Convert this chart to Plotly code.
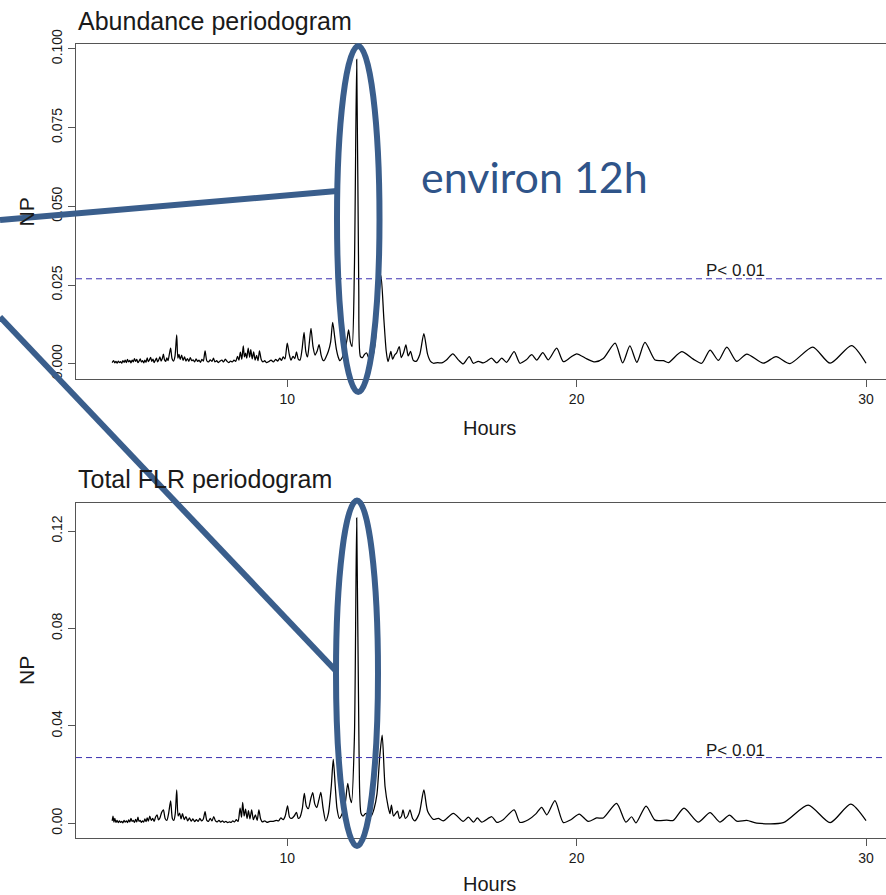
import plotly.graph_objects as go

# ---------------- data ----------------
abund_hours = [
    3.95, 4.00, 4.04, 4.08, 4.12, 4.16, 4.20, 4.24, 4.28, 4.32, 4.36, 4.40, 4.44, 4.48, 4.52, 4.56,
    4.60, 4.64, 4.68, 4.72, 4.76, 4.80, 4.84, 4.88, 4.92, 4.96, 5.00, 5.04, 5.08, 5.12, 5.16, 5.20,
    5.24, 5.28, 5.32, 5.36, 5.40, 5.44, 5.48, 5.52, 5.56, 5.60, 5.64, 5.68, 5.72, 5.76, 5.80, 5.84,
    5.88, 5.92, 5.97, 6.02, 6.07, 6.12, 6.18, 6.22, 6.26, 6.30, 6.35, 6.40, 6.45, 6.50, 6.55, 6.60,
    6.65, 6.70, 6.75, 6.80, 6.85, 6.90, 6.95, 7.00, 7.05, 7.10, 7.16, 7.22, 7.28, 7.34, 7.40, 7.45,
    7.50, 7.56, 7.62, 7.68, 7.74, 7.80, 7.86, 7.92, 7.98, 8.04, 8.10, 8.16, 8.22, 8.28, 8.33, 8.38,
    8.43, 8.48, 8.52, 8.56, 8.60, 8.65, 8.70, 8.74, 8.79, 8.84, 8.89, 8.94, 8.99, 9.04, 9.10, 9.16,
    9.22, 9.28, 9.36, 9.44, 9.52, 9.60, 9.67, 9.74, 9.80, 9.86, 9.92, 10.00, 10.07, 10.13, 10.20, 10.26,
    10.32, 10.38, 10.44, 10.51, 10.58, 10.64, 10.70, 10.76, 10.82, 10.89, 10.96, 11.03, 11.10, 11.17, 11.23, 11.27,
    11.34, 11.42, 11.50, 11.57, 11.64, 11.70, 11.76, 11.82, 11.90, 11.99, 12.07, 12.12, 12.18, 12.24, 12.32, 12.40,
    12.47, 12.53, 12.60, 12.67, 12.74, 12.81, 12.88, 12.95, 13.03, 13.12, 13.24, 13.34, 13.42, 13.48, 13.53, 13.58,
    13.64, 13.71, 13.78, 13.87, 13.94, 14.02, 14.10, 14.18, 14.26, 14.35, 14.45, 14.58, 14.72, 14.85, 14.95, 15.05,
    15.20, 15.34, 15.50, 15.72, 15.92, 16.08, 16.29, 16.43, 16.60, 16.77, 16.92, 17.06, 17.24, 17.41, 17.58, 17.84,
    18.04, 18.25, 18.45, 18.62, 18.83, 19.02, 19.31, 19.54, 19.78, 20.00, 20.35, 20.63, 20.92, 21.33, 21.59, 21.84,
    22.08, 22.36, 22.71, 23.00, 23.17, 23.63, 24.03, 24.32, 24.61, 24.90, 25.19, 25.53, 25.88, 26.45, 26.89, 27.37,
    28.16, 28.76, 29.50, 30.00,
]
abund_np = [
    0.0004, 0.0010, 0.0003, 0.0008, 0.0002, 0.0009, 0.0004, 0.0007, 0.0002, 0.0010, 0.0005, 0.0012, 0.0004, 0.0014, 0.0006, 0.0011,
    0.0003, 0.0012, 0.0006, 0.0017, 0.0008, 0.0014, 0.0004, 0.0009, 0.0016, 0.0006, 0.0010, 0.0003, 0.0012, 0.0005, 0.0019, 0.0007,
    0.0013, 0.0021, 0.0008, 0.0015, 0.0004, 0.0011, 0.0018, 0.0006, 0.0013, 0.0022, 0.0009, 0.0016, 0.0031, 0.0012, 0.0008, 0.0019,
    0.0010, 0.0028, 0.0050, 0.0016, 0.0009, 0.0024, 0.0092, 0.0018, 0.0030, 0.0014, 0.0028, 0.0011, 0.0022, 0.0009, 0.0017, 0.0008,
    0.0020, 0.0010, 0.0013, 0.0006, 0.0016, 0.0008, 0.0012, 0.0005, 0.0014, 0.0009, 0.0041, 0.0010, 0.0006, 0.0013, 0.0008, 0.0018,
    0.0006, 0.0010, 0.0004, 0.0009, 0.0012, 0.0006, 0.0015, 0.0008, 0.0004, 0.0009, 0.0006, 0.0012, 0.0008, 0.0024, 0.0012, 0.0037,
    0.0015, 0.0057, 0.0022, 0.0034, 0.0018, 0.0050, 0.0021, 0.0045, 0.0016, 0.0038, 0.0012, 0.0027, 0.0010, 0.0041, 0.0014, 0.0006,
    0.0010, 0.0004, 0.0007, 0.0012, 0.0006, 0.0014, 0.0009, 0.0018, 0.0011, 0.0022, 0.0016, 0.0066, 0.0030, 0.0012, 0.0024, 0.0017,
    0.0038, 0.0015, 0.0012, 0.0045, 0.0100, 0.0040, 0.0022, 0.0065, 0.0113, 0.0055, 0.0028, 0.0040, 0.0061, 0.0028, 0.0012, 0.0010,
    0.0022, 0.0040, 0.0070, 0.0132, 0.0085, 0.0045, 0.0022, 0.0010, 0.0020, 0.0042, 0.0080, 0.0108, 0.0070, 0.0055, 0.0300, 0.0966,
    0.0250, 0.0023, 0.0020, 0.0030, 0.0035, 0.0020, 0.0010, 0.0022, 0.0060, 0.0160, 0.0280, 0.0140, 0.0040, 0.0007, 0.0022, 0.0040,
    0.0015, 0.0028, 0.0035, 0.0055, 0.0020, 0.0035, 0.0060, 0.0025, 0.0040, 0.0012, 0.0008, 0.0030, 0.0096, 0.0030, 0.0008, 0.0002,
    0.0004, 0.0003, 0.0012, 0.0032, 0.0012, 0.0000, 0.0023, 0.0002, 0.0008, 0.0003, 0.0010, 0.0018, 0.0003, 0.0018, 0.0005, 0.0039,
    0.0002, 0.0012, 0.0029, 0.0012, 0.0036, 0.0013, 0.0050, 0.0007, 0.0020, 0.0032, 0.0016, 0.0006, 0.0017, 0.0066, 0.0003, 0.0057,
    0.0005, 0.0068, 0.0012, 0.0010, 0.0004, 0.0039, 0.0015, 0.0002, 0.0044, 0.0011, 0.0053, 0.0008, 0.0031, 0.0002, 0.0023, 0.0001,
    0.0053, 0.0002, 0.0058, 0.0002,
]

flr_hours = [
    3.95, 3.98, 4.01, 4.04, 4.08, 4.12, 4.16, 4.20, 4.24, 4.28, 4.32, 4.36, 4.40, 4.44, 4.48, 4.52,
    4.56, 4.60, 4.64, 4.68, 4.72, 4.76, 4.80, 4.84, 4.88, 4.92, 4.96, 5.00, 5.04, 5.08, 5.12, 5.16,
    5.20, 5.25, 5.30, 5.35, 5.40, 5.45, 5.50, 5.55, 5.60, 5.66, 5.72, 5.78, 5.84, 5.90, 5.97, 6.03,
    6.08, 6.13, 6.18, 6.23, 6.28, 6.33, 6.38, 6.44, 6.50, 6.56, 6.62, 6.68, 6.74, 6.80, 6.86, 6.92,
    6.98, 7.04, 7.10, 7.16, 7.22, 7.28, 7.34, 7.40, 7.46, 7.52, 7.58, 7.64, 7.70, 7.76, 7.82, 7.88,
    7.94, 8.00, 8.06, 8.12, 8.18, 8.24, 8.30, 8.37, 8.42, 8.46, 8.51, 8.56, 8.61, 8.66, 8.71, 8.77,
    8.83, 8.90, 8.96, 9.02, 9.08, 9.14, 9.22, 9.30, 9.40, 9.52, 9.62, 9.70, 9.78, 9.86, 9.93, 10.01,
    10.08, 10.15, 10.24, 10.32, 10.38, 10.44, 10.52, 10.59, 10.66, 10.73, 10.81, 10.88, 10.95, 11.02, 11.09, 11.16,
    11.24, 11.33, 11.42, 11.52, 11.59, 11.66, 11.72, 11.80, 11.90, 12.00, 12.09, 12.16, 12.22, 12.32, 12.40, 12.48,
    12.55, 12.62, 12.70, 12.80, 12.90, 13.00, 13.10, 13.20, 13.28, 13.38, 13.49, 13.55, 13.60, 13.67, 13.74, 13.81,
    13.88, 13.95, 14.00, 14.08, 14.16, 14.24, 14.33, 14.41, 14.56, 14.72, 14.85, 15.05, 15.22, 15.39, 15.74, 16.08,
    16.26, 16.43, 16.57, 16.72, 17.07, 17.24, 17.46, 17.84, 18.04, 18.33, 18.60, 18.79, 18.97, 19.25, 19.54, 19.80,
    20.09, 20.40, 20.69, 20.92, 21.38, 21.70, 21.90, 22.05, 22.40, 22.71, 23.11, 23.34, 23.71, 24.20, 24.61, 24.95,
    25.28, 25.53, 25.88, 26.22, 27.14, 28.00, 28.76, 29.47, 30.00,
]
flr_np = [
    0.0010, 0.0030, 0.0005, 0.0020, 0.0004, 0.0012, 0.0003, 0.0010, 0.0004, 0.0008, 0.0002, 0.0012, 0.0005, 0.0010, 0.0003, 0.0014,
    0.0006, 0.0020, 0.0008, 0.0012, 0.0004, 0.0016, 0.0006, 0.0025, 0.0008, 0.0012, 0.0004, 0.0010, 0.0005, 0.0018, 0.0007, 0.0022,
    0.0009, 0.0030, 0.0012, 0.0020, 0.0008, 0.0026, 0.0035, 0.0014, 0.0022, 0.0045, 0.0055, 0.0020, 0.0012, 0.0040, 0.0092, 0.0020,
    0.0012, 0.0040, 0.0137, 0.0030, 0.0042, 0.0018, 0.0040, 0.0015, 0.0028, 0.0010, 0.0022, 0.0009, 0.0018, 0.0007, 0.0015, 0.0008,
    0.0020, 0.0010, 0.0018, 0.0048, 0.0012, 0.0008, 0.0020, 0.0010, 0.0028, 0.0010, 0.0006, 0.0012, 0.0005, 0.0010, 0.0004, 0.0008,
    0.0003, 0.0006, 0.0004, 0.0010, 0.0006, 0.0015, 0.0008, 0.0062, 0.0025, 0.0086, 0.0030, 0.0058, 0.0020, 0.0052, 0.0018, 0.0055,
    0.0015, 0.0035, 0.0012, 0.0055, 0.0018, 0.0006, 0.0010, 0.0004, 0.0008, 0.0008, 0.0012, 0.0010, 0.0022, 0.0015, 0.0030, 0.0072,
    0.0025, 0.0020, 0.0030, 0.0045, 0.0020, 0.0025, 0.0060, 0.0123, 0.0070, 0.0060, 0.0100, 0.0126, 0.0080, 0.0065, 0.0095, 0.0127,
    0.0060, 0.0010, 0.0040, 0.0150, 0.0263, 0.0150, 0.0060, 0.0020, 0.0040, 0.0080, 0.0164, 0.0110, 0.0085, 0.0350, 0.1254, 0.0300,
    0.0040, 0.0030, 0.0040, 0.0040, 0.0030, 0.0060, 0.0120, 0.0280, 0.0362, 0.0150, 0.0066, 0.0040, 0.0075, 0.0030, 0.0040, 0.0050,
    0.0020, 0.0030, 0.0055, 0.0020, 0.0030, 0.0055, 0.0020, 0.0010, 0.0040, 0.0137, 0.0050, 0.0016, 0.0020, 0.0010, 0.0041, 0.0008,
    0.0025, 0.0005, 0.0022, 0.0005, 0.0027, 0.0004, 0.0015, 0.0055, 0.0004, 0.0015, 0.0040, 0.0066, 0.0035, 0.0093, 0.0003, 0.0015,
    0.0038, 0.0008, 0.0022, 0.0022, 0.0082, 0.0005, 0.0027, 0.0002, 0.0071, 0.0013, 0.0013, 0.0012, 0.0062, 0.0005, 0.0044, 0.0005,
    0.0034, 0.0009, 0.0012, 0.0001, 0.0003, 0.0075, 0.0003, 0.0079, 0.0011,
]

x_ticks = [10, 20, 30]
abund_y_ticks = [0.0, 0.025, 0.05, 0.075, 0.1]
abund_y_ticktext = ["0.000", "0.025", "0.050", "0.075", "0.100"]
flr_y_ticks = [0.0, 0.04, 0.08, 0.12]
flr_y_ticktext = ["0.00", "0.04", "0.08", "0.12"]
threshold = 0.027
titles = ["Abundance periodogram", "Total FLR periodogram"]
note_text = "environ 12h"

# ---------------- layout helpers (pixel -> paper) ----------------
W, H = 886, 895


def px(x):
    return x / W


def py(y):
    return 1 - y / H


AX = "#555555"
TXT = "#1a1a1a"
BLUE = "#3a5e8c"
FONT = "Liberation Sans, Arial, sans-serif"

fig = go.Figure()
fig.add_trace(go.Scatter(x=abund_hours, y=abund_np, mode="lines",
                         line=dict(color="black", width=1.25, shape="spline", smoothing=0.7),
                         xaxis="x", yaxis="y", showlegend=False, hoverinfo="skip"))
fig.add_trace(go.Scatter(x=flr_hours, y=flr_np, mode="lines",
                         line=dict(color="black", width=1.25, shape="spline", smoothing=0.7),
                         xaxis="x2", yaxis="y2", showlegend=False, hoverinfo="skip"))

xcommon = dict(range=[2.70, 30.69], tickvals=x_ticks, ticks="outside", ticklen=7, tickcolor=AX,
               showline=True, mirror=True, linecolor=AX, linewidth=1, showgrid=False, zeroline=False,
               automargin=False, tickfont=dict(family=FONT, size=14, color=TXT), domain=[px(76), 1])
ycommon = dict(ticks="outside", ticklen=7, tickcolor=AX, showline=True, mirror=False, linecolor=AX,
               linewidth=1, showgrid=False, zeroline=False, tickangle=-90, automargin=False,
               tickfont=dict(family=FONT, size=14, color=TXT))

fig.update_layout(
    template="none",
    width=W, height=H, margin=dict(l=0, r=0, t=0, b=0, pad=0, autoexpand=False),
    paper_bgcolor="white", plot_bgcolor="white",
    xaxis=dict(anchor="y", **xcommon),
    yaxis=dict(anchor="x", domain=[py(379), py(44)], range=[-0.0048, 0.1015],
               tickvals=abund_y_ticks, ticktext=abund_y_ticktext, **ycommon),
    xaxis2=dict(anchor="y2", **xcommon),
    yaxis2=dict(anchor="x2", domain=[py(837.7), py(503.3)], range=[-0.0059, 0.1314],
                tickvals=flr_y_ticks, ticktext=flr_y_ticktext, **ycommon),
)

# significance thresholds
for yr, xr in (("y", "x domain"), ("y2", "x2 domain")):
    fig.add_shape(type="line", xref=xr, yref=yr, x0=0, x1=1, y0=threshold, y1=threshold,
                  line=dict(color="#3b30b0", width=1, dash="6px,4px"))

# text annotations
anns = [
    dict(text=titles[0], x=px(76), y=py(21), xanchor="left", size=25),
    dict(text=titles[1], x=px(76), y=py(479), xanchor="left", size=25),
    dict(text="Hours", x=px(489.5), y=py(428), xanchor="center", size=20),
    dict(text="Hours", x=px(489.5), y=py(884), xanchor="center", size=20),
    dict(text="P< 0.01", x=px(735), y=py(270), xanchor="center", size=17),
    dict(text="P< 0.01", x=px(735), y=py(750), xanchor="center", size=17),
]
for a in anns:
    fig.add_annotation(text=a["text"], xref="paper", yref="paper", x=a["x"], y=a["y"],
                       xanchor=a["xanchor"], yanchor="middle", showarrow=False,
                       font=dict(family=FONT, size=a["size"], color=TXT))
for yc in (212.5, 671):
    fig.add_annotation(text="NP", xref="paper", yref="paper", x=px(26), y=py(yc), textangle=-90,
                       xanchor="center", yanchor="middle", showarrow=False,
                       font=dict(family=FONT, size=21, color=TXT))

# highlight overlays (ellipses + pointer lines)
fig.add_shape(type="circle", xref="paper", yref="paper", x0=px(337), x1=px(379.5), y0=py(392), y1=py(46),
              line=dict(color=BLUE, width=6), layer="above")
fig.add_shape(type="circle", xref="paper", yref="paper", x0=px(336), x1=px(378), y0=py(846), y1=py(500.5),
              line=dict(color=BLUE, width=6), layer="above")
fig.add_shape(type="line", xref="paper", yref="paper", x0=px(0), y0=py(220), x1=px(337), y1=py(191),
              line=dict(color=BLUE, width=6), layer="above")
fig.add_shape(type="line", xref="paper", yref="paper", x0=px(0), y0=py(317), x1=px(336), y1=py(671),
              line=dict(color=BLUE, width=6), layer="above")
fig.add_annotation(text=note_text, xref="paper", yref="paper", x=px(534.5), y=py(176),
                   xanchor="center", yanchor="middle", showarrow=False,
                   font=dict(family="Lato, Open Sans, sans-serif", size=43, color="#2f5489"))

fig.write_html("out.html", config={"displayModeBar": False},
               post_script="document.body.style.margin='0';document.body.style.overflow='hidden';")
